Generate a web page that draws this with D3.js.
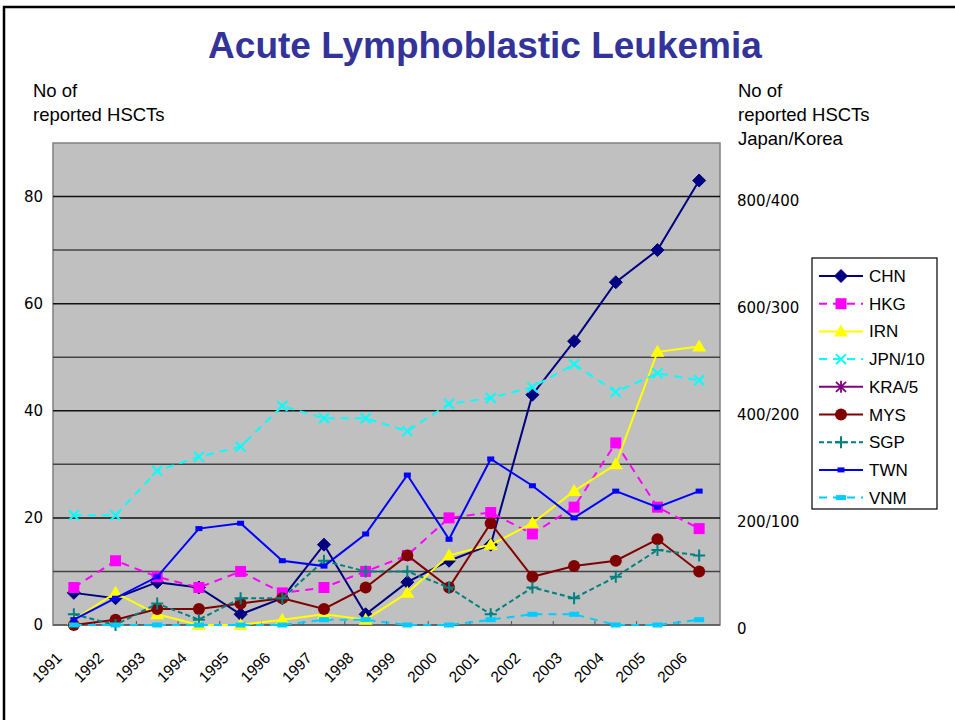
<!DOCTYPE html>
<html><head><meta charset="utf-8">
<script src="https://cdn.jsdelivr.net/npm/d3@7"></script>
<style>body{margin:0;background:#fff}svg{display:block}</style>
</head><body>
<script>
const years = ["1991","1992","1993","1994","1995","1996","1997","1998","1999","2000","2001","2002","2003","2004","2005","2006"];
const CHN = [6,5,8,7,2,5,15,2,8,12,15,43,53,64,70,83];
const HKG = [7,12,9,7,10,6,7,10,13,20,21,17,22,34,22,18];
const IRN = [1,6,2,0,0,1,2,1,6,13,15,19,25,30,51,52];
const JPN10 = [20.5,20.5,28.8,31.4,33.3,40.9,38.6,38.6,36.2,41.3,42.4,44.4,48.7,43.5,47,45.7];
const KRA5 = [null,null,null,null,null,null,null,null,null,null,null,null,null,null,null,null];
const MYS = [0,1,3,3,4,5,3,7,13,7,19,9,11,12,16,10];
const SGP = [2,0,4,1,5,5,12,10,10,7,2,7,5,9,14,13];
const TWN = [1,5,9,18,19,12,11,17,28,16,31,26,20,25,22,25];
const VNM = [0,0,0,0,0,0,1,1,0,0,1,2,2,0,0,1];
const leftTicks = [0,20,40,60,80];
const rightTickLabels = ["0","200/100","400/200","600/300","800/400"];
const gridValues = [10,20,30,40,50,60,70,80];

const series = [
  {name:"CHN", values:CHN, color:"#000080", dash:null, marker:"diamond"},
  {name:"HKG", values:HKG, color:"#FF00FF", dash:"8,6", marker:"square"},
  {name:"IRN", values:IRN, color:"#FFFF00", dash:null, marker:"triangle"},
  {name:"JPN/10", values:JPN10, color:"#00FFFF", dash:"8,6", marker:"x"},
  {name:"KRA/5", values:KRA5, color:"#800080", dash:null, marker:"star"},
  {name:"MYS", values:MYS, color:"#800000", dash:null, marker:"circle"},
  {name:"SGP", values:SGP, color:"#008080", dash:"5,3", marker:"plus"},
  {name:"TWN", values:TWN, color:"#0000FF", dash:null, marker:"smallrect"},
  {name:"VNM", values:VNM, color:"#00CCFF", dash:"8,6", marker:"widerect"}
];

const W=955,H=720;
const svg = d3.select("body").append("svg").attr("width",W).attr("height",H);
// frame
svg.append("rect").attr("x",4).attr("y",7).attr("width",1000).attr("height",1000)
  .attr("fill","none").attr("stroke","#000").attr("stroke-width",2.5);

const L=53,R=720,T=143,B=625;
const x = d3.scalePoint().domain(years).range([L,R]).padding(0.5);
const y = d3.scaleLinear().domain([0,90]).range([B,T]);

svg.append("text").attr("x",485).attr("y",58).attr("text-anchor","middle")
  .attr("font-family","Liberation Sans, Arial, sans-serif").attr("font-weight","bold")
  .attr("font-size",37).attr("fill","#333399").text("Acute Lymphoblastic Leukemia");

const lab = (xx,yy,t)=>svg.append("text").attr("x",xx).attr("y",yy)
  .attr("font-family","Liberation Sans, Arial, sans-serif").attr("font-size",18.5).attr("fill","#000").text(t);
lab(33,97,"No of"); lab(33,121,"reported HSCTs");
lab(738,97,"No of"); lab(738,121,"reported HSCTs"); lab(738,145,"Japan/Korea");

// plot area
svg.append("rect").attr("x",L).attr("y",T).attr("width",R-L).attr("height",B-T)
  .attr("fill","#C0C0C0").attr("stroke","#808080").attr("stroke-width",1.5);

svg.append("g").selectAll("line").data(gridValues).join("line")
  .attr("x1",L).attr("x2",R).attr("y1",d=>y(d)).attr("y2",d=>y(d))
  .attr("stroke",(d,i)=>i%2?"#111":"#444").attr("stroke-width",1.5);

// bottom axis
svg.append("line").attr("x1",L).attr("x2",R).attr("y1",B).attr("y2",B).attr("stroke","#555").attr("stroke-width",1.5);
const step = x.step();
svg.append("g").selectAll("line").data(years.slice(1)).join("line")
  .attr("x1",d=>x(d)-step/2).attr("x2",d=>x(d)-step/2).attr("y1",B).attr("y2",B-4)
  .attr("stroke","#555");

// left tick labels
svg.append("g").selectAll("text").data(leftTicks).join("text")
  .attr("x",43).attr("y",d=>y(d)+5).attr("text-anchor","end")
  .attr("font-family","DejaVu Sans, sans-serif").attr("font-size",15).text(d=>d);
// right tick labels
svg.append("g").selectAll("text").data(leftTicks).join("text")
  .attr("x",737).attr("y",d=>y(d)+9)
  .attr("font-family","DejaVu Sans, sans-serif").attr("font-size",15).text((d,i)=>rightTickLabels[i]);

// x labels
svg.append("g").selectAll("text").data(years).join("text")
  .attr("transform",d=>`translate(${x(d)-11},${659}) rotate(-45)`)
  .attr("text-anchor","end")
  .attr("font-family","Liberation Sans, Arial, sans-serif").attr("font-size",15.5).text(d=>d);

function drawMarker(g, type, color, cx, cy){
  switch(type){
    case "diamond": g.append("path").attr("d",`M${cx},${cy-6.5}L${cx+6.5},${cy}L${cx},${cy+6.5}L${cx-6.5},${cy}Z`).attr("fill",color).attr("stroke",color); break;
    case "square": g.append("rect").attr("x",cx-5.5).attr("y",cy-5.5).attr("width",11).attr("height",11).attr("fill",color); break;
    case "triangle": g.append("path").attr("d",`M${cx},${cy-7}L${cx+7},${cy+5}L${cx-7},${cy+5}Z`).attr("fill",color); break;
    case "x": g.append("path").attr("d",`M${cx-5},${cy-5}L${cx+5},${cy+5}M${cx-5},${cy+5}L${cx+5},${cy-5}`).attr("stroke",color).attr("stroke-width",2); break;
    case "star": g.append("path").attr("d",`M${cx-5},${cy-5}L${cx+5},${cy+5}M${cx-5},${cy+5}L${cx+5},${cy-5}M${cx},${cy-6}L${cx},${cy+6}`).attr("stroke",color).attr("stroke-width",1.8); break;
    case "circle": g.append("circle").attr("cx",cx).attr("cy",cy).attr("r",6).attr("fill",color); break;
    case "plus": g.append("path").attr("d",`M${cx-6},${cy}L${cx+6},${cy}M${cx},${cy-6}L${cx},${cy+6}`).attr("stroke",color).attr("stroke-width",2); break;
    case "smallrect": g.append("rect").attr("x",cx-3.5).attr("y",cy-2.5).attr("width",7).attr("height",5).attr("fill",color); break;
    case "widerect": g.append("rect").attr("x",cx-5).attr("y",cy-2.5).attr("width",10).attr("height",5).attr("fill",color); break;
  }
}

const line = d3.line().defined(d=>d.v!=null).x(d=>x(d.year)).y(d=>y(d.v));
series.forEach(s=>{
  const pts = years.map((yr,i)=>({year:yr, v:s.values[i]}));
  const g = svg.append("g");
  g.append("path").datum(pts).attr("d",line).attr("fill","none")
    .attr("stroke",s.color).attr("stroke-width",2).attr("stroke-dasharray",s.dash);
  pts.filter(p=>p.v!=null).forEach(p=>drawMarker(g,s.marker,s.color,x(p.year),y(p.v)));
});

// legend
const lg = svg.append("g");
lg.append("rect").attr("x",812).attr("y",258).attr("width",125).attr("height",251)
  .attr("fill","#fff").attr("stroke","#000").attr("stroke-width",1.2);
series.forEach((s,i)=>{
  const yy = 276 + i*27.7;
  lg.append("line").attr("x1",819).attr("x2",863).attr("y1",yy).attr("y2",yy)
    .attr("stroke",s.color).attr("stroke-width",2).attr("stroke-dasharray",s.dash);
  drawMarker(lg,s.marker,s.color,841,yy);
  lg.append("text").attr("x",869).attr("y",yy+6)
    .attr("font-family","Liberation Sans, Arial, sans-serif").attr("font-size",17).text(s.name);
});
</script>
</body></html>
